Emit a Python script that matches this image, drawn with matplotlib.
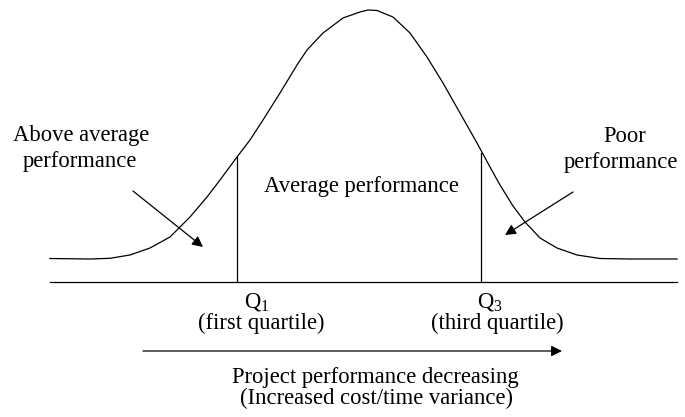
import matplotlib
matplotlib.use("Agg")
import matplotlib.pyplot as plt

plt.rcParams['font.family'] = ['Liberation Serif', 'DejaVu Serif']
plt.rcParams['mathtext.fontset'] = 'custom'
plt.rcParams['mathtext.rm'] = 'Liberation Serif'
plt.rcParams['mathtext.it'] = 'Liberation Serif:italic'

# bell curve (x to the right, y downwards)
curve_x = [50, 90, 110, 130, 150, 170, 190, 207, 220, 237, 250, 263, 280, 297,
           307, 323, 343, 360, 368, 377, 393, 410, 427, 443, 460, 477, 490,
           500, 513, 525, 540, 557, 577, 600, 630, 677]
curve_y = [258.5, 259, 258.3, 255, 248, 237, 217, 197, 180, 157, 140, 120, 93,
           65, 50, 33, 18, 12, 10, 10.5, 17, 33, 57, 83, 113, 143, 167,
           185, 206, 222, 238, 248, 255, 258.5, 259, 259]

base_y = 282
base_x = [50, 677]
quart_x = [237, 481]
quart_top = [157, 153]
quart_labels = [r'$\mathrm{Q}_1$', r'$\mathrm{Q}_3$']
quart_names = ['(first quartile)', '(third quartile)']

fs = 16.3

fig = plt.figure(figsize=(6.85, 4.17), dpi=100)
ax = fig.add_axes([0, 0, 1, 1])
ax.set_xlim(0, 685)
ax.set_ylim(417, 0)
ax.axis('off')

ax.plot(curve_x, curve_y, color='black', lw=0.9)
ax.plot(base_x, [base_y, base_y], color='black', lw=0.9)

for i in range(2):
    ax.plot([quart_x[i], quart_x[i]], [quart_top[i], base_y], color='black', lw=0.9)

ax.text(257, 302, quart_labels[0], ha='center', va='center', fontsize=fs)
ax.text(490, 302, quart_labels[1], ha='center', va='center', fontsize=fs)
ax.text(261, 323, quart_names[0], ha='center', va='center', fontsize=fs)
ax.text(497, 323, quart_names[1], ha='center', va='center', fontsize=fs)

arrow = dict(arrowstyle='-|>', color='black', lw=0.9, mutation_scale=16,
             shrinkA=0, shrinkB=0)
ax.annotate('', xy=(203, 247), xytext=(133, 191), arrowprops=arrow)
ax.annotate('', xy=(505, 235), xytext=(573, 192), arrowprops=arrow)
ax.annotate('', xy=(562, 351), xytext=(143, 351), arrowprops=arrow)

ax.text(81, 136, 'Above average', ha='center', va='center', fontsize=fs)
ax.text(80, 161, 'performance', ha='center', va='center', fontsize=fs)
ax.text(625, 137, 'Poor', ha='center', va='center', fontsize=fs)
ax.text(621, 162, 'performance', ha='center', va='center', fontsize=fs)
ax.text(361, 186, 'Average performance', ha='center', va='center', fontsize=fs)
ax.text(375, 377, 'Project performance decreasing', ha='center', va='center', fontsize=fs)
ax.text(377, 398, '(Increased cost/time variance)', ha='center', va='center', fontsize=fs)

plt.savefig('out.png', dpi=100)
